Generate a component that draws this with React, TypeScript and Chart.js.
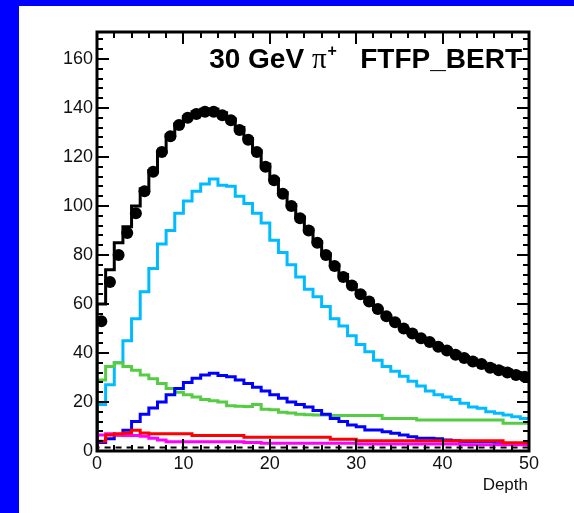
import React, { useEffect, useRef } from "react";
import { Chart, registerables } from "chart.js";

Chart.register(...registerables);

// ---- axis ranges & tick labels ----
const X_MIN = 0;
const X_MAX = 50;
const Y_MIN = 0;
const Y_MAX = 171;
const xTickLabels = [0, 10, 20, 30, 40, 50];
const yTickLabels = [0, 20, 40, 60, 80, 100, 120, 140, 160];
const xTitle = "Depth";

// ---- bins: 50 bins of width 1 ----
const binEdges = [
  0, 1, 2, 3, 4, 5, 6, 7, 8, 9, 10, 11, 12, 13, 14, 15, 16, 17, 18, 19, 20, 21, 22, 23, 24,
  25, 26, 27, 28, 29, 30, 31, 32, 33, 34, 35, 36, 37, 38, 39, 40, 41, 42, 43, 44, 45, 46, 47, 48, 49, 50,
];

// ---- series ----
const dataPoints = [
  53, 69, 80, 89, 97, 106, 114, 122, 128.5, 133, 136, 137.5, 138.5, 138.5, 137, 135, 131, 127, 122, 116,
  110.5, 105, 100, 95, 90, 85, 80, 75.5, 71, 67.5, 64, 61, 58, 55, 52.5, 50, 48, 46, 44.5, 42.5,
  41, 39.3, 38, 36.5, 35.5, 34, 33, 32, 31, 30.3,
];
const mcTotal = [
  60, 74, 85, 91.5, 100, 107, 114.5, 122, 129, 133.5, 136.5, 138.5, 139.5, 139.5, 138, 135.5, 132, 127.5, 122.5, 117,
  111, 105.5, 100.5, 95.5, 90.5, 85.5, 80.5, 76, 72, 68, 64.5, 61, 58, 55, 52.5, 50, 48, 46, 44.5, 43,
  41.5, 40, 38.5, 37, 36, 35, 34, 33, 32, 31,
];
const cyanSeries = [
  19, 27, 36, 45, 54, 65, 74.5, 84.5, 90, 97, 102, 106, 109, 111, 108.5, 108, 104, 101, 97, 93,
  86, 81, 76, 71, 66, 63, 59, 54, 51, 47, 43.5, 40.5, 37, 34.5, 32.5, 30.5, 28.5, 26.5, 24.5, 23,
  22, 21, 19.5, 18, 17.4, 16, 15.4, 14.7, 14, 13.3,
];
const greenSeries = [
  29, 34.5, 36, 34.5, 33, 31, 29.5, 27.5, 25.5, 24, 23, 22, 21, 20.5, 20, 18.5, 18.3, 18.2, 19, 17,
  16.8, 15.8, 15.5, 15, 14.8, 14.7, 14.7, 14.5, 14.5, 14.5, 14.5, 14.5, 14.5, 13.3, 13.3, 13.3, 13.3, 12.7, 12.7, 12.7,
  12.7, 12.7, 12.7, 12.7, 12.7, 12.7, 12.7, 11.3, 11.3, 11.3,
];
const blueSeries = [
  3.5, 5, 6.5, 8.5, 12, 15, 17.5, 20, 23, 25.5, 28, 29.7, 31, 31.7, 30.8, 30.3, 29, 27.5, 26, 24.5,
  23, 21.5, 20, 19, 18, 16.5, 15, 13.3, 12, 10.6, 9.9, 8.6, 8.6, 7.9, 7.2, 6.5, 5.8, 5.2, 5.2, 5,
  4.5, 4.2, 3.8, 3.8, 3.8, 3.8, 3, 3, 3, 3,
];
const redSeries = [
  4, 6.5, 7, 7.3, 8.5, 7.3, 7, 7, 7, 7, 7, 6.3, 6.3, 6.3, 6.3, 6.3, 6.3, 5.6, 5.6, 5.6,
  5.6, 5.6, 5.6, 5.6, 5.6, 5.6, 5.6, 4.8, 4.8, 4.8, 4.2, 4.2, 4.2, 4.2, 4.2, 4.2, 4.2, 4.2, 4.2, 4.2,
  4.2, 4.2, 4.2, 4.2, 4.2, 4.2, 4.2, 3.4, 3.4, 3.4,
];
const magentaSeries = [
  6.5, 7, 6.5, 6.3, 6.3, 6, 5.2, 4.5, 3.8, 3.8, 3.8, 3.8, 3.8, 3.8, 3.8, 3.8, 3.8, 3.5, 3.5, 3.2,
  3.2, 3.2, 3.2, 3.2, 3.2, 3.2, 3.2, 3.2, 3.2, 3.2, 2.9, 2.9, 2.9, 2.9, 2.9, 2.9, 2.9, 2.9, 2.9, 2.9,
  2.9, 2.9, 2.5, 2.5, 2.5, 2.5, 2.5, 2.5, 2.5, 2.5,
];
const lowDashedSeries = [
  1.4, 1.4, 1.4, 1.4, 1.4, 1.4, 1.4, 1.4, 1.4, 1.4, 1.4, 1.4, 1.4, 1.4, 1.4, 1.4, 1.4, 1.4, 1.4, 1.4,
  1.4, 1.4, 1.4, 1.4, 1.4, 1.4, 1.4, 1.4, 1.4, 1.4, 1.4, 1.4, 1.4, 1.4, 1.4, 1.4, 1.4, 1.4, 1.4, 1.4,
  1.4, 1.4, 1.4, 1.4, 1.4, 1.4, 1.4, 1.4, 1.4, 1.4,
];

function histPoints(values: number[]) {
  const pts: { x: number; y: number }[] = [{ x: binEdges[0], y: 0 }];
  values.forEach((v, i) => pts.push({ x: binEdges[i], y: v }));
  pts.push({ x: binEdges[values.length], y: values[values.length - 1] });
  return pts;
}
function centerPoints(values: number[]) {
  return values.map((v, i) => ({ x: (binEdges[i] + binEdges[i + 1]) / 2, y: v }));
}

const rootFrame = {
  id: "rootFrame",
  afterDatasetsDraw(chart: any) {
    const { ctx, chartArea: a, scales } = chart;
    const xs = scales.x;
    const ys = scales.y;
    ctx.save();
    ctx.strokeStyle = "#000";
    ctx.lineWidth = 2;
    const line = (x1: number, y1: number, x2: number, y2: number) => {
      ctx.beginPath();
      ctx.moveTo(x1, y1);
      ctx.lineTo(x2, y2);
      ctx.stroke();
    };
    for (let v = Y_MIN; v <= Y_MAX; v += 4) {
      const py = Math.round(ys.getPixelForValue(v));
      const len = v % 20 === 0 ? 12 : 6;
      line(a.left, py, a.left + len, py);
      line(a.right, py, a.right - len, py);
    }
    for (let v = X_MIN; v <= X_MAX; v += 2) {
      const px = Math.round(xs.getPixelForValue(v));
      const len = v % 10 === 0 ? 12 : 6;
      line(px, a.bottom, px, a.bottom - len);
      line(px, a.top, px, a.top + len);
    }
    ctx.lineWidth = 3;
    ctx.strokeRect(a.left, a.top, a.right - a.left, a.bottom - a.top);

    // tick labels
    ctx.fillStyle = "#111";
    ctx.font = '18px "Liberation Sans", Arial, sans-serif';
    ctx.textAlign = "right";
    ctx.textBaseline = "middle";
    yTickLabels.forEach((v) => {
      ctx.fillText(String(v), a.left - 4, ys.getPixelForValue(v));
    });
    ctx.textAlign = "center";
    ctx.textBaseline = "top";
    xTickLabels.forEach((v) => {
      ctx.fillText(String(v), xs.getPixelForValue(v), a.bottom + 4);
    });
    ctx.font = '17px "Liberation Sans", Arial, sans-serif';
    ctx.textAlign = "right";
    ctx.textBaseline = "alphabetic";
    ctx.fillText(xTitle, a.right - 1, a.bottom + 39);

    // title text: one run, right end near the frame
    ctx.fillStyle = "#000";
    ctx.textAlign = "left";
    const base = a.top + 36;
    const fMain = 'bold 28px "Liberation Sans", Arial, sans-serif';
    const fPi = '29px "Liberation Serif", "DejaVu Serif", serif';
    const fSup = 'bold 16px "Liberation Sans", Arial, sans-serif';
    ctx.font = fMain;
    const w1 = ctx.measureText("30 GeV ").width;
    const w4 = ctx.measureText("FTFP_BERT").width;
    const wGap = ctx.measureText("   ").width;
    ctx.font = fPi;
    const w2 = ctx.measureText("\u03c0").width;
    ctx.font = fSup;
    const w3 = ctx.measureText("+").width;
    const total = w1 + w2 + 1 + w3 + wGap + w4;
    let cx = a.right - 7 - total;
    ctx.font = fMain;
    ctx.fillText("30 GeV ", cx, base);
    cx += w1;
    ctx.font = fPi;
    ctx.fillText("\u03c0", cx, base);
    cx += w2 + 1;
    ctx.font = fSup;
    ctx.fillText("+", cx, base - 12);
    cx += w3 + wGap;
    ctx.font = fMain;
    ctx.fillText("FTFP_BERT", cx, base);
    ctx.restore();
  },
};

export default function App() {
  const ref = useRef<HTMLCanvasElement | null>(null);
  useEffect(() => {
    if (!ref.current) return;
    const hist = (values: number[], color: string, width = 3, dash: number[] = []) => ({
      type: "line" as const,
      data: histPoints(values),
      borderColor: color,
      borderWidth: width,
      borderDash: dash,
      stepped: "before" as const,
      pointRadius: 0,
      fill: false,
      tension: 0,
    });
    const chart = new Chart(ref.current, {
      type: "line",
      data: {
        datasets: [
          {
            type: "scatter",
            data: centerPoints(dataPoints),
            backgroundColor: "#000",
            borderColor: "#000",
            pointRadius: 6,
            pointBorderWidth: 0,
            showLine: false,
          } as any,
          hist(mcTotal, "#000000"),
          hist(redSeries, "#ff0000"),
          hist(magentaSeries, "#ff00ff"),
          hist(blueSeries, "#0000ff"),
          hist(greenSeries, "#55cc44"),
          hist(cyanSeries, "#00bbff"),
          hist(lowDashedSeries, "#000000", 2, [6, 5]),
        ],
      },
      options: {
        responsive: false,
        animation: false,
        events: [],
        layout: { padding: { left: 97, right: 45, top: 32, bottom: 62 } },
        plugins: { legend: { display: false }, tooltip: { enabled: false } },
        scales: {
          x: { type: "linear", min: X_MIN, max: X_MAX, display: false },
          y: { type: "linear", min: Y_MIN, max: Y_MAX, display: false },
        },
      },
      plugins: [rootFrame],
    });
    return () => chart.destroy();
  }, []);

  return (
    <div style={{ position: "fixed", left: 0, top: 0, width: 574, height: 513, background: "#0000ff" }}>
      <div style={{ position: "absolute", left: 19, top: 6, right: 0, bottom: 0, background: "#ffffff" }} />
      <canvas
        ref={ref}
        width={574}
        height={513}
        style={{ position: "absolute", left: 0, top: 0, width: 574, height: 513 }}
      />
    </div>
  );
}
